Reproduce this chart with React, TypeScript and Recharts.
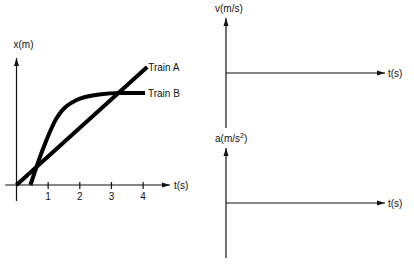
import { LineChart, Line, XAxis, YAxis, ReferenceLine, ReferenceDot, Label } from "recharts";

// position-time graph (t in s, x in m)
const trainA = [
  { t: 0, x: 0 },
  { t: 4.13, x: 11.8 },
];
const trainB = [
  { t: 0.44, x: 0 },
  { t: 0.8, x: 3.3 },
  { t: 1.27, x: 6.7 },
  { t: 1.9, x: 8.5 },
  { t: 2.6, x: 9.05 },
  { t: 3.3, x: 9.2 },
  { t: 4.06, x: 9.2 },
];
const tTicks = [1, 2, 3, 4];
const tMax = 4.85;
const xMax = 12.7;

// empty answer graphs: just the time axis at zero
const blankTimeAxis = [
  { t: 0, y: 0 },
  { t: 1, y: 0 },
];

const FONT = "'Liberation Sans', Arial, sans-serif";
const INK = "#111";

const arrowRight = (props: any) => {
  const { cx, cy } = props;
  return <polygon points={`${cx},${cy} ${cx - 8},${cy - 2.5} ${cx - 8},${cy + 2.5}`} fill={INK} />;
};

const arrowUp = (props: any) => {
  const { cx, cy } = props;
  return <polygon points={`${cx},${cy} ${cx - 2.5},${cy + 8} ${cx + 2.5},${cy + 8}`} fill={INK} />;
};

const TimeTick = (props: any) => {
  const { x, y, payload } = props;
  return (
    <g>
      <line x1={x} y1={y - 3} x2={x} y2={y + 4} stroke={INK} strokeWidth={1.2} />
      <text x={x} y={y + 15} textAnchor="middle" fontSize={10} fontFamily={FONT} fill={INK}>
        {payload.value}
      </text>
    </g>
  );
};

const textLabel = (text: any, dx: number, dy: number, anchor = "start") => (props: any) => {
  const vb = props.viewBox || {};
  return (
    <text x={vb.x + dx} y={vb.y + dy} textAnchor={anchor} fontSize={10} fontFamily={FONT} fill={INK}>
      {text}
    </text>
  );
};

const BlankGraph = ({ yLabel }: { yLabel: any }) => (
  <LineChart width={204} height={130} data={blankTimeAxis} margin={{ top: 18, right: 29, bottom: 2, left: 16 }}>
    <XAxis dataKey="t" type="number" domain={[0, 1]} hide />
    <YAxis type="number" domain={[-1, 1]} hide />
    <ReferenceLine x={0} stroke={INK} strokeWidth={1.2} />
    <Line dataKey="y" type="linear" stroke={INK} strokeWidth={1.2} dot={false} isAnimationActive={false} />
    <ReferenceDot x={1} y={0} r={0} shape={arrowRight}>
      <Label content={textLabel("t(s)", 3, 4)} />
    </ReferenceDot>
    <ReferenceDot x={0} y={1} r={0} shape={arrowUp}>
      <Label content={textLabel(yLabel, -11, -6.5)} />
    </ReferenceDot>
  </LineChart>
);

export default function App() {
  return (
    <div style={{ position: "absolute", left: 0, top: 0, width: 414, height: 267, background: "#fff" }}>
      <div style={{ position: "absolute", left: 0, top: 0 }}>
        <LineChart width={200} height={215} margin={{ top: 58, right: 30, bottom: 10, left: 16.5 }}>
          <XAxis
            dataKey="t"
            type="number"
            domain={[0, tMax]}
            ticks={tTicks}
            axisLine={false}
            tickLine={false}
            tickSize={0}
            tickMargin={0}
            tick={<TimeTick />}
            height={20}
            interval={0}
          />
          <YAxis type="number" domain={[0, xMax]} hide />
          <ReferenceLine
            segment={[{ x: -0.36, y: 0 }, { x: tMax, y: 0 }]}
            ifOverflow="visible"
            stroke={INK}
            strokeWidth={1.2}
          />
          <ReferenceLine
            segment={[{ x: 0, y: -1.6 }, { x: 0, y: xMax }]}
            ifOverflow="visible"
            stroke={INK}
            strokeWidth={1.2}
          />
          <ReferenceDot x={tMax} y={0} r={0} shape={arrowRight}>
            <Label content={textLabel("t(s)", 4, 3.5)} />
          </ReferenceDot>
          <ReferenceDot x={0} y={xMax} r={0} shape={arrowUp}>
            <Label content={textLabel("x(m)", -3, -10)} />
          </ReferenceDot>
          <Line
            data={trainA}
            dataKey="x"
            type="linear"
            stroke="#000"
            strokeWidth={4}
            dot={false}
            isAnimationActive={false}
          />
          <Line
            data={trainB}
            dataKey="x"
            type="monotone"
            stroke="#000"
            strokeWidth={4}
            dot={false}
            isAnimationActive={false}
          />
          <ReferenceDot x={4.13} y={11.8} r={0}>
            <Label content={textLabel("Train A", 1, 3.5)} />
          </ReferenceDot>
          <ReferenceDot x={4.06} y={9.2} r={0}>
            <Label content={textLabel("Train B", 3, 3.5)} />
          </ReferenceDot>
        </LineChart>
      </div>
      <div style={{ position: "absolute", left: 210, top: 0 }}>
        <BlankGraph yLabel="v(m/s)" />
      </div>
      <div style={{ position: "absolute", left: 210, top: 130 }}>
        <BlankGraph
          yLabel={
            <>
              a(m/s
              <tspan dy={-4} fontSize={7}>
                2
              </tspan>
              <tspan dy={4}>)</tspan>
            </>
          }
        />
      </div>
    </div>
  );
}
